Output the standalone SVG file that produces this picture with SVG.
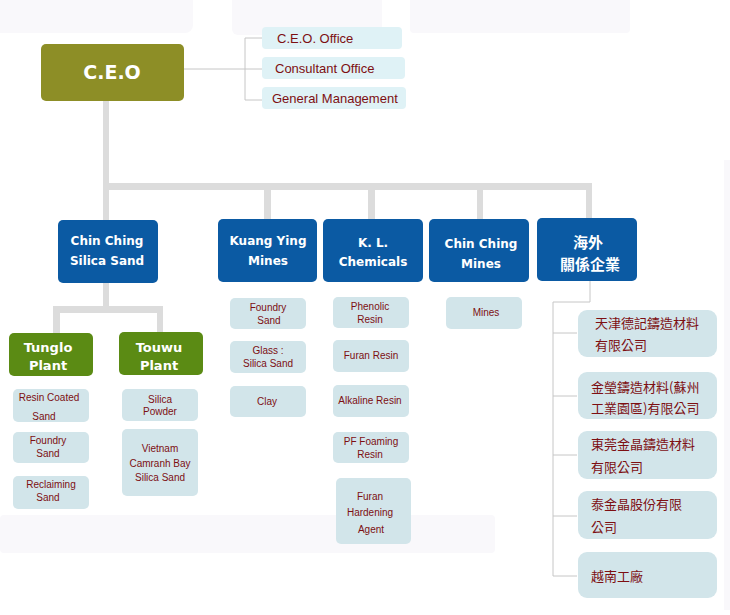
<svg xmlns="http://www.w3.org/2000/svg" width="730" height="615" viewBox="0 0 730 615">
<style>
.bg{fill:#f9f8fb}
.ceo{fill:#8d8e26}
.blue{fill:#0b5aa3}
.green{fill:#5b8b14}
.office{fill:#dff2f6}
.sub{fill:#d2e5ea}
.t-w{font-family:"DejaVu Sans",Verdana,sans-serif;font-weight:bold;fill:#ffffff;text-anchor:middle}
.t-cjkw{font-family:"Noto Sans CJK TC","Noto Sans CJK SC",sans-serif;font-weight:bold;fill:#ffffff;text-anchor:middle;font-size:15px}
.t-off{font-family:"Liberation Sans",Arial,sans-serif;font-size:13px;fill:#7d0f12}
.t-sub{font-family:"Liberation Sans",Arial,sans-serif;font-size:10px;fill:#7d0f12;text-anchor:middle}
.t-cjk{font-family:"Noto Sans CJK TC","Noto Sans CJK SC",sans-serif;font-size:13px;fill:#7d0f12}
.thick{fill:#dcdcdc}
.thin{stroke:#c6c6c6;stroke-width:1;fill:none}
</style>
<rect width="730" height="615" fill="#ffffff"/>
<g id="background">
<rect class="bg" x="-10" y="-10" width="203" height="43" rx="8"/>
<rect class="bg" x="232" y="-10" width="150" height="45" rx="6"/>
<rect class="bg" x="410" y="-10" width="220" height="43" rx="4"/>
<rect class="bg" x="0" y="515" width="495" height="38" rx="4"/>
<rect class="bg" x="724" y="160" width="6" height="450"/>
</g>
<g id="connectors">
<path class="thin" d="M184 69H245M245 38V100M245 38H262M245 69H262M245 100H262"/>
<rect class="thick" x="103" y="101" width="6" height="119"/>
<rect class="thick" x="103" y="183" width="489" height="7"/>
<rect class="thick" x="264" y="183" width="7" height="36"/>
<rect class="thick" x="368" y="183" width="7" height="36"/>
<rect class="thick" x="477" y="183" width="6" height="36"/>
<rect class="thick" x="586" y="183" width="6" height="35"/>
<rect class="thick" x="103" y="283" width="6" height="25"/>
<rect class="thick" x="53" y="306" width="110" height="7"/>
<rect class="thick" x="53" y="306" width="7" height="27"/>
<rect class="thick" x="157" y="306" width="6" height="26"/>
<path class="thin" d="M590 281V302H553V576M553 333H577M553 396H577M553 455H577M553 516H577M553 576H577"/>
</g>
<g id="ceo">
<rect class="ceo" x="41" y="44" width="143" height="57" rx="5"/>
<text class="t-w" x="112" y="79" font-size="19">C.E.O</text>
</g>
<g id="ceo-office">
<rect class="office" x="262" y="27" width="140" height="22" rx="4"/>
<text class="t-off" x="277" y="43">C.E.O. Office</text>
</g>
<g id="consultant-office">
<rect class="office" x="262" y="57" width="143" height="22" rx="4"/>
<text class="t-off" x="275" y="73">Consultant Office</text>
</g>
<g id="general-management">
<rect class="office" x="262" y="87" width="144" height="22" rx="4"/>
<text class="t-off" x="272" y="103">General Management</text>
</g>
<g id="chin-ching-silica-sand">
<rect class="blue" x="58" y="220" width="100" height="63" rx="5"/>
<text class="t-w" x="107" y="245" font-size="12">Chin Ching</text>
<text class="t-w" x="107" y="265" font-size="12">Silica Sand</text>
</g>
<g id="kuang-ying-mines">
<rect class="blue" x="218" y="219" width="99" height="63" rx="5"/>
<text class="t-w" x="268" y="245" font-size="12">Kuang Ying</text>
<text class="t-w" x="268" y="265" font-size="12">Mines</text>
</g>
<g id="kl-chemicals">
<rect class="blue" x="323" y="219" width="100" height="63" rx="5"/>
<text class="t-w" x="373" y="247" font-size="12">K. L.</text>
<text class="t-w" x="373" y="266" font-size="12">Chemicals</text>
</g>
<g id="chin-ching-mines">
<rect class="blue" x="429" y="219" width="100" height="63" rx="5"/>
<text class="t-w" x="481" y="248" font-size="12">Chin Ching</text>
<text class="t-w" x="481" y="268" font-size="12">Mines</text>
</g>
<g id="overseas">
<rect class="blue" x="537" y="218" width="100" height="63" rx="5"/>
<text class="t-cjkw" x="588" y="248">海外</text>
<text class="t-cjkw" x="590" y="270">關係企業</text>
</g>
<g id="tunglo-plant">
<rect class="green" x="9" y="333" width="84" height="43" rx="5"/>
<text class="t-w" x="48" y="352" font-size="13">Tunglo</text>
<text class="t-w" x="48" y="370" font-size="13">Plant</text>
</g>
<g id="touwu-plant">
<rect class="green" x="119" y="332" width="84" height="43" rx="5"/>
<text class="t-w" x="159" y="352" font-size="13">Touwu</text>
<text class="t-w" x="159" y="370" font-size="13">Plant</text>
</g>
<g id="resin-coated-sand">
<rect class="sub" x="13" y="389" width="76" height="33" rx="5"/>
<text class="t-sub" x="49" y="401">Resin Coated</text>
<text class="t-sub" x="44" y="420">Sand</text>
</g>
<g id="tunglo-foundry-sand">
<rect class="sub" x="13" y="432" width="76" height="31" rx="5"/>
<text class="t-sub" x="48" y="444">Foundry</text>
<text class="t-sub" x="48" y="457">Sand</text>
</g>
<g id="reclaiming-sand">
<rect class="sub" x="13" y="476" width="76" height="33" rx="5"/>
<text class="t-sub" x="51" y="488">Reclaiming</text>
<text class="t-sub" x="48" y="501">Sand</text>
</g>
<g id="silica-powder">
<rect class="sub" x="122" y="389" width="76" height="32" rx="5"/>
<text class="t-sub" x="160" y="403">Silica</text>
<text class="t-sub" x="160" y="415">Powder</text>
</g>
<g id="vietnam-silica-sand">
<rect class="sub" x="122" y="429" width="76" height="67" rx="5"/>
<text class="t-sub" x="160" y="452">Vietnam</text>
<text class="t-sub" x="160" y="467">Camranh Bay</text>
<text class="t-sub" x="160" y="481">Silica Sand</text>
</g>
<g id="ky-foundry-sand">
<rect class="sub" x="230" y="298" width="76" height="31" rx="5"/>
<text class="t-sub" x="268" y="311">Foundry</text>
<text class="t-sub" x="269" y="324">Sand</text>
</g>
<g id="glass-silica-sand">
<rect class="sub" x="230" y="341" width="76" height="32" rx="5"/>
<text class="t-sub" x="268" y="354">Glass :</text>
<text class="t-sub" x="268" y="367">Silica Sand</text>
</g>
<g id="clay">
<rect class="sub" x="230" y="386" width="76" height="31" rx="5"/>
<text class="t-sub" x="267" y="405">Clay</text>
</g>
<g id="phenolic-resin">
<rect class="sub" x="333" y="297" width="76" height="31" rx="5"/>
<text class="t-sub" x="370" y="310">Phenolic</text>
<text class="t-sub" x="370" y="323">Resin</text>
</g>
<g id="furan-resin">
<rect class="sub" x="333" y="340" width="76" height="32" rx="5"/>
<text class="t-sub" x="371" y="359">Furan Resin</text>
</g>
<g id="alkaline-resin">
<rect class="sub" x="333" y="385" width="76" height="32" rx="5"/>
<text class="t-sub" x="370" y="404">Alkaline Resin</text>
</g>
<g id="pf-foaming-resin">
<rect class="sub" x="333" y="432" width="76" height="31" rx="5"/>
<text class="t-sub" x="371" y="445">PF Foaming</text>
<text class="t-sub" x="370" y="458">Resin</text>
</g>
<g id="furan-hardening-agent">
<rect class="sub" x="336" y="478" width="75" height="66" rx="5"/>
<text class="t-sub" x="370" y="500">Furan</text>
<text class="t-sub" x="370" y="516">Hardening</text>
<text class="t-sub" x="371" y="533">Agent</text>
</g>
<g id="mines">
<rect class="sub" x="446" y="297" width="76" height="32" rx="5"/>
<text class="t-sub" x="486" y="316">Mines</text>
</g>
<g id="tianjin">
<rect class="sub" x="578" y="310" width="139" height="47" rx="9"/>
<text class="t-cjk" x="595" y="328">天津德記鑄造材料</text>
<text class="t-cjk" x="595" y="350">有限公司</text>
</g>
<g id="jinying">
<rect class="sub" x="578" y="372" width="139" height="47" rx="9"/>
<text class="t-cjk" x="591" y="392">金瑩鑄造材料(蘇州</text>
<text class="t-cjk" x="591" y="413">工業園區)有限公司</text>
</g>
<g id="dongguan">
<rect class="sub" x="578" y="431" width="139" height="48" rx="9"/>
<text class="t-cjk" x="591" y="449">東莞金晶鑄造材料</text>
<text class="t-cjk" x="591" y="472">有限公司</text>
</g>
<g id="taijinjing">
<rect class="sub" x="578" y="491" width="139" height="48" rx="9"/>
<text class="t-cjk" x="591" y="509">泰金晶股份有限</text>
<text class="t-cjk" x="591" y="532">公司</text>
</g>
<g id="vietnam-plant">
<rect class="sub" x="578" y="552" width="139" height="46" rx="9"/>
<text class="t-cjk" x="591" y="581">越南工廠</text>
</g>
</svg>
